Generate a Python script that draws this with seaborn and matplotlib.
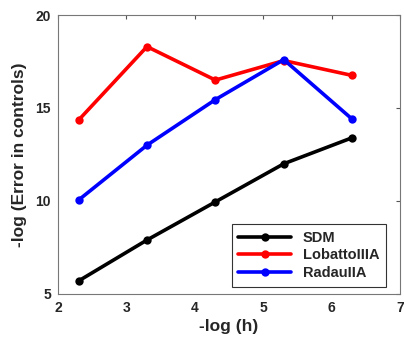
import pandas as pd
import matplotlib
matplotlib.use("Agg")
import matplotlib.pyplot as plt
import seaborn as sns

# -log(h)
log_h = [2.301, 3.301, 4.301, 5.301, 6.301]

# -log(error in controls)
sdm = [5.7, 7.9, 9.95, 12.0, 13.4]
lobatto = [14.35, 18.3, 16.5, 17.55, 16.75]
radau = [10.05, 13.0, 15.45, 17.6, 14.4]

methods = ["SDM", "LobattoIIIA", "RadauIIA"]
colors = ["black", "red", "blue"]

df = pd.DataFrame({
    "h": log_h * 3,
    "err": sdm + lobatto + radau,
    "method": [m for m in methods for _ in log_h],
})

sns.set_style("white")
plt.rcParams["font.family"] = ["Liberation Sans", "DejaVu Sans"]
plt.rcParams["font.weight"] = "bold"

fig = plt.figure(figsize=(4.04, 3.41), dpi=100)
ax = fig.add_axes([0.1436, 0.138, 0.8464, 0.818])

sns.lineplot(data=df, x="h", y="err", hue="method", palette=colors,
             hue_order=methods, marker="o", markersize=6, linewidth=2.6,
             markeredgewidth=0, ax=ax)

ax.set_xlim(2, 7)
ax.set_ylim(5, 20)
ax.set_xticks([2, 3, 4, 5, 6, 7])
ax.set_yticks([5, 10, 15, 20])
ax.set_xlabel("-log (h)", fontsize=12.5, fontweight="bold", labelpad=3)
ax.set_ylabel("-log (Error in controls)", fontsize=12.5, fontweight="bold",
              labelpad=6)
ax.tick_params(direction="in", length=3, width=0.8, color="#555555",
               labelsize=10, top=True, right=True, pad=5)
for s in ax.spines.values():
    s.set_color("#777777")
    s.set_linewidth(0.8)
    s.set_visible(True)

leg = ax.legend(loc="lower right", fontsize=10.5, frameon=True, fancybox=False,
                edgecolor="black", handlelength=3.6, borderpad=0.45,
                labelspacing=0.25, bbox_to_anchor=(0.98, 0.0))
leg.get_frame().set_linewidth(0.8)
for t in leg.get_texts():
    t.set_fontweight("bold")

fig.savefig("out.png", dpi=100)
